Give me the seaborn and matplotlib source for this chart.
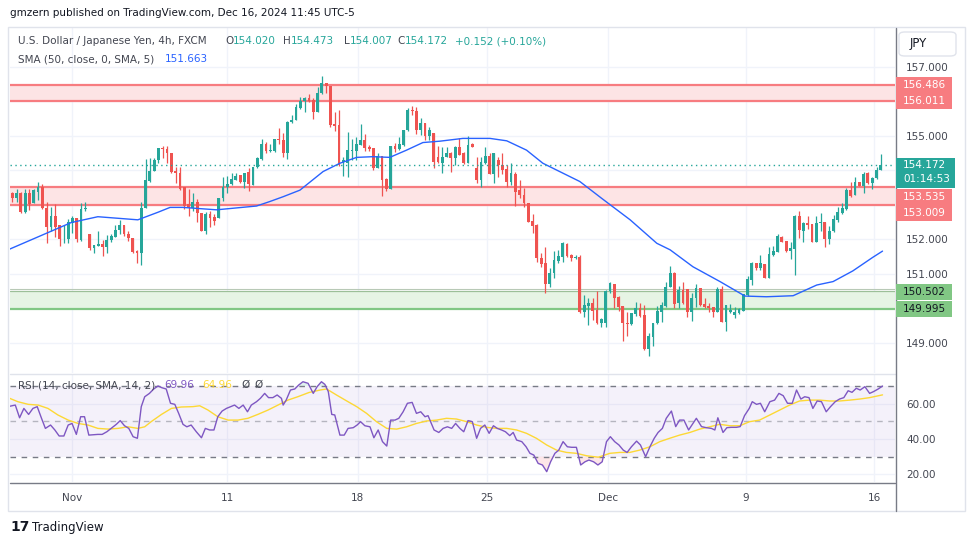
import numpy as np
import pandas as pd
import seaborn as sns
import matplotlib.pyplot as plt
from matplotlib.patches import Rectangle, FancyBboxPatch
from matplotlib.lines import Line2D

# ---- USD/JPY 4h candles ----
opens = [
    153.34, 153.21, 153.34, 152.81, 153.34, 153.05, 153.39, 153.51, 152.90, 152.37,
    152.68, 152.42, 152.00, 152.00, 152.47, 152.61, 151.98, 152.87, 152.16, 151.76,
    151.81, 151.87, 151.79, 151.99, 152.08, 152.28, 152.42, 152.15, 152.03, 151.67,
    151.60, 152.90, 153.70, 153.99, 154.29, 154.64, 154.62, 154.50, 153.99, 153.92,
    153.51, 153.02, 152.90, 153.08, 152.78, 152.26, 152.74, 152.64, 152.61, 153.19,
    153.51, 153.60, 153.72, 153.87, 153.68, 153.95, 153.58, 154.11, 154.33, 154.77,
    154.56, 154.56, 154.91, 154.88, 154.50, 155.40, 155.46, 155.82, 156.01, 156.09,
    156.04, 155.70, 156.24, 156.53, 156.46, 155.35, 155.32, 154.26, 154.21, 154.57,
    154.57, 154.74, 154.88, 154.67, 154.64, 154.08, 154.42, 153.75, 153.45, 154.71,
    154.62, 154.74, 155.17, 155.75, 155.72, 155.17, 155.37, 155.01, 155.10, 154.40,
    154.23, 154.40, 154.52, 154.37, 154.69, 154.50, 154.23, 154.76, 154.06, 153.72,
    154.21, 154.42, 153.90, 154.31, 154.16, 154.03, 153.68, 153.90, 153.42, 153.29,
    153.07, 152.55, 152.42, 151.47, 151.31, 150.71, 151.02, 151.38, 151.50, 151.87,
    151.55, 151.47, 151.50, 149.91, 150.07, 150.15, 149.97, 149.57, 149.57, 150.51,
    150.71, 150.34, 150.07, 149.59, 149.55, 149.84, 150.00, 149.81, 148.83, 149.18,
    149.57, 149.89, 150.07, 150.63, 151.04, 150.15, 150.54, 150.56, 149.91, 150.29,
    150.58, 150.13, 150.07, 150.05, 149.91, 150.57, 149.62, 149.91, 149.81, 149.88,
    149.94, 150.39, 150.83, 151.31, 151.16, 151.29, 150.89, 151.55, 151.65, 152.08,
    151.96, 151.68, 151.73, 152.68, 152.26, 152.47, 152.45, 151.94, 152.47, 152.52,
    152.00, 152.26, 152.57, 152.76, 152.87, 153.42, 153.29, 153.68, 153.56, 153.92,
    153.63, 153.77, 154.020,
]
highs = [
    153.39, 153.46, 153.39, 153.46, 153.46, 153.46, 153.66, 153.60, 153.08, 152.95,
    153.02, 152.42, 152.42, 152.58, 152.68, 152.61, 153.07, 153.08, 152.16, 151.84,
    152.25, 151.99, 152.13, 152.15, 152.42, 152.57, 152.42, 152.25, 152.03, 151.70,
    153.10, 154.33, 154.35, 154.37, 154.64, 154.71, 154.71, 154.50, 154.11, 154.11,
    153.51, 153.46, 153.34, 153.17, 152.78, 152.81, 152.83, 152.74, 153.19, 153.80,
    153.84, 153.92, 153.94, 153.87, 153.94, 154.06, 154.11, 154.38, 154.90, 154.84,
    154.77, 154.91, 155.22, 155.08, 155.42, 155.61, 155.92, 156.12, 156.14, 156.22,
    156.09, 156.43, 156.74, 156.53, 156.46, 155.70, 155.75, 154.38, 155.13, 154.91,
    154.98, 155.35, 155.06, 154.74, 154.64, 154.50, 154.42, 153.77, 154.71, 154.79,
    154.98, 155.17, 155.80, 155.87, 155.85, 155.51, 155.39, 155.25, 155.10, 154.71,
    154.67, 154.67, 154.55, 154.71, 154.93, 154.55, 155.00, 154.79, 154.40, 154.40,
    154.69, 154.50, 154.50, 154.40, 154.50, 154.16, 154.23, 153.97, 153.72, 153.48,
    153.07, 152.74, 152.44, 151.60, 151.79, 151.16, 151.68, 151.70, 151.94, 151.91,
    151.58, 151.55, 151.55, 150.39, 150.29, 150.29, 150.51, 149.73, 150.54, 150.78,
    150.71, 150.36, 150.07, 149.91, 149.88, 150.20, 150.15, 150.10, 149.28, 149.59,
    150.07, 150.20, 150.78, 151.23, 151.07, 150.65, 150.78, 150.56, 150.44, 150.70,
    150.58, 150.29, 150.17, 150.05, 150.63, 150.66, 150.10, 150.12, 150.05, 150.00,
    150.42, 150.95, 151.36, 151.33, 151.55, 151.29, 151.79, 151.81, 152.16, 152.10,
    151.96, 151.92, 152.71, 152.84, 152.52, 152.69, 152.45, 152.68, 152.76, 152.52,
    152.39, 152.71, 152.95, 153.05, 153.48, 153.68, 153.80, 153.68, 153.95, 153.97,
    153.82, 154.11, 154.473,
]
lows = [
    153.08, 153.08, 152.78, 152.78, 152.85, 153.05, 153.15, 152.87, 151.91, 152.26,
    152.08, 151.81, 151.91, 151.91, 152.20, 151.94, 151.96, 152.84, 151.70, 151.60,
    151.81, 151.53, 151.60, 151.94, 152.08, 152.15, 152.11, 151.97, 151.62, 151.33,
    151.26, 152.90, 153.68, 153.99, 154.21, 154.35, 154.23, 153.92, 153.65, 153.43,
    152.87, 152.69, 152.84, 152.52, 152.24, 152.15, 152.37, 152.42, 152.61, 153.13,
    153.34, 153.58, 153.72, 153.65, 153.48, 153.41, 153.58, 154.06, 154.30, 154.50,
    154.53, 154.55, 154.77, 154.40, 154.33, 155.39, 155.46, 155.78, 155.70, 155.98,
    155.49, 155.70, 156.22, 156.26, 155.27, 155.15, 154.14, 153.84, 153.82, 154.29,
    154.29, 154.74, 154.56, 154.56, 154.01, 154.06, 153.26, 153.41, 153.45, 154.55,
    154.59, 154.72, 155.15, 155.61, 155.05, 155.03, 154.87, 154.87, 154.06, 154.21,
    153.92, 154.38, 153.97, 154.16, 154.45, 154.19, 154.23, 154.69, 153.65, 153.53,
    154.19, 153.90, 153.63, 153.82, 153.90, 153.53, 153.58, 152.98, 153.19, 152.95,
    152.50, 152.20, 151.36, 151.21, 150.46, 150.63, 150.88, 151.31, 151.36, 151.50,
    151.39, 151.42, 149.86, 149.76, 149.52, 149.67, 149.55, 149.47, 149.47, 150.44,
    150.00, 149.94, 149.07, 149.20, 149.52, 149.78, 149.74, 148.80, 148.63, 148.91,
    149.55, 149.62, 150.05, 150.61, 150.00, 150.00, 150.13, 149.76, 149.65, 150.03,
    150.07, 150.00, 149.91, 149.76, 149.91, 149.60, 149.36, 149.86, 149.71, 149.84,
    149.94, 150.36, 150.68, 151.12, 151.12, 150.89, 150.89, 151.52, 151.65, 151.92,
    151.65, 151.43, 150.97, 152.03, 151.92, 152.29, 151.94, 151.94, 152.26, 151.79,
    151.87, 152.23, 152.52, 152.74, 152.85, 153.22, 153.29, 153.56, 153.34, 153.61,
    153.45, 153.74, 154.007,
]
closes = [
    153.21, 153.34, 152.81, 153.34, 153.02, 153.42, 153.53, 152.90, 152.37, 152.68,
    152.37, 152.00, 152.01, 152.52, 152.61, 152.00, 152.88, 152.92, 151.76, 151.84,
    151.87, 151.79, 151.99, 152.10, 152.28, 152.42, 152.15, 152.03, 151.65, 151.60,
    152.90, 153.72, 153.99, 154.29, 154.64, 154.61, 154.50, 153.97, 153.92, 153.46,
    152.97, 152.90, 153.08, 152.78, 152.26, 152.74, 152.63, 152.55, 153.19, 153.53,
    153.60, 153.74, 153.85, 153.68, 153.94, 153.60, 154.11, 154.35, 154.77, 154.56,
    154.59, 154.91, 154.88, 154.50, 155.40, 155.46, 155.85, 156.01, 156.09, 156.01,
    155.70, 156.24, 156.53, 156.46, 155.32, 155.30, 154.16, 154.29, 154.59, 154.59,
    154.77, 154.88, 154.66, 154.62, 154.08, 154.42, 153.72, 153.45, 154.71, 154.62,
    154.77, 155.17, 155.75, 155.72, 155.17, 155.37, 155.01, 155.17, 154.25, 154.24,
    154.40, 154.52, 154.37, 154.69, 154.45, 154.21, 154.74, 154.69, 153.72, 154.26,
    154.42, 153.90, 154.50, 154.16, 154.01, 153.68, 153.92, 153.39, 153.29, 153.07,
    152.52, 152.39, 151.45, 151.29, 150.71, 151.04, 151.41, 151.53, 151.89, 151.53,
    151.47, 151.50, 149.91, 150.10, 150.17, 149.94, 149.57, 149.69, 150.51, 150.73,
    150.29, 150.03, 149.57, 149.55, 149.86, 150.00, 149.78, 148.83, 149.20, 149.59,
    149.94, 150.10, 150.63, 151.04, 150.13, 150.54, 150.15, 149.91, 150.29, 150.58,
    150.10, 150.05, 150.00, 149.91, 150.57, 149.62, 150.10, 149.96, 149.91, 149.99,
    150.42, 150.85, 151.33, 151.16, 151.31, 150.89, 151.58, 151.67, 152.10, 151.94,
    151.68, 151.76, 152.68, 152.28, 152.47, 152.42, 151.94, 152.49, 152.52, 152.00,
    152.26, 152.59, 152.79, 152.90, 153.42, 153.26, 153.68, 153.56, 153.90, 153.63,
    153.77, 154.01, 154.172,
]

# SMA(50) overlay, read at bar positions
sma_x = [-1.0, 13.7, 19.9, 29.2, 33.9, 36.7, 39.7, 47.5, 56.8, 59.9, 63.0, 66.9, 72.3,
         76.2, 80.1, 83.9, 87.8, 91.7, 95.5, 99.5, 104.8, 111.1, 115.0, 119.6, 123.4,
         128.1, 132.0, 137.0, 143.7, 149.9, 153.0, 158.3, 164.6, 170.4, 175.4, 181.6,
         187.1, 190.9, 195.5, 200.1, 202.4]
sma_val = [151.70, 152.49, 152.66, 152.57, 152.79, 152.93, 152.93, 152.86, 152.97, 153.10,
           153.24, 153.43, 153.97, 154.21, 154.38, 154.40, 154.38, 154.59, 154.81, 154.85,
           154.93, 154.93, 154.86, 154.59, 154.21, 153.92, 153.68, 153.20, 152.57, 151.89,
           151.70, 151.21, 150.78, 150.36, 150.34, 150.37, 150.68, 150.78, 151.09, 151.48,
           151.663]

# RSI(14) and its SMA(14)
rsi_x = [-1.0, 0.7, 1.7, 2.7, 3.8, 4.8, 5.8, 6.8, 7.7, 8.9, 9.9, 10.9, 12.0, 13.0, 13.9,
         14.9, 15.9, 16.8, 17.8, 19.9, 20.9, 22.0, 23.2, 24.2, 25.1, 26.1, 27.1, 28.1, 29.1,
         30.0, 30.8, 31.9, 32.9, 33.9, 34.8, 35.8, 36.8, 37.8, 38.7, 39.7, 40.6, 41.6, 42.8,
         44.0, 44.9, 45.9, 46.9, 47.8, 48.8, 49.8, 50.8, 51.7, 52.7, 53.7, 54.7, 55.6, 56.8,
         57.7, 58.7, 59.6, 60.6, 61.6, 62.6, 63.0, 63.7, 64.7, 65.7, 66.6, 67.6, 68.8, 70.0,
         70.9, 71.9, 72.7, 73.5, 74.3, 75.0, 76.2, 77.2, 78.1, 79.3, 80.2, 81.0, 82.0, 83.2,
         84.1, 85.1, 86.1, 87.1, 88.0, 89.0, 89.9, 90.9, 91.9, 93.0, 94.0, 95.0, 96.0, 96.7,
         98.1, 99.2, 100.2, 101.2, 102.2, 103.1, 104.1, 105.0, 106.0, 107.0, 108.0, 108.9,
         109.9, 110.9, 111.9, 112.8, 113.8, 114.7, 115.7, 116.5, 117.3, 118.5, 119.5, 120.4,
         121.3, 122.3, 123.3, 124.3, 125.2, 126.2, 127.1, 128.1, 129.1, 130.1, 131.2, 132.2,
         133.2, 134.1, 135.2, 136.2, 137.2, 138.2, 139.1, 140.1, 141.1, 142.1, 143.0, 144.0,
         145.2, 146.1, 147.3, 148.3, 149.3, 150.2, 151.2, 152.1, 153.3, 154.3, 155.2, 156.2,
         157.3, 158.3, 159.1, 160.3, 161.4, 162.6, 163.4, 164.1, 165.3, 166.2, 167.2, 168.4,
         169.3, 170.3, 171.4, 172.1, 173.1, 174.0, 175.0, 176.2, 177.3, 178.3, 179.3, 180.3,
         181.4, 182.4, 183.4, 184.3, 185.3, 186.2, 187.2, 188.2, 189.3, 190.3, 191.4, 192.4,
         193.4, 194.4, 195.3, 196.3, 197.2, 198.3, 199.4, 200.3, 201.4, 202.4]
rsi_val = [58.3, 59.2, 52.0, 57.3, 53.9, 57.3, 58.3, 51.7, 46.0, 47.9, 45.1, 41.7, 41.7, 47.9, 48.8,
           42.6, 52.6, 52.6, 42.2, 42.6, 42.6, 44.1, 46.4, 48.3, 50.4, 47.5, 46.0, 41.3, 40.4,
           58.3, 63.9, 65.8, 68.3, 70.0, 69.0, 68.3, 60.2, 59.6, 54.5, 48.3, 46.9, 47.9, 44.1,
           40.7, 46.0, 45.1, 45.1, 52.6, 55.8, 57.3, 58.3, 59.2, 57.3, 59.2, 55.4, 59.2, 61.1,
           63.0, 65.8, 63.4, 63.4, 64.9, 63.0, 59.2, 62.0, 67.7, 68.3, 70.5, 72.4, 71.5, 65.8,
           69.6, 72.4, 70.9, 66.8, 53.9, 53.6, 42.2, 42.2, 46.0, 46.4, 47.9, 49.8, 47.5, 46.9,
           40.7, 45.1, 38.5, 36.0, 50.7, 50.7, 51.7, 55.4, 60.2, 60.7, 54.5, 55.4, 52.6, 53.2,
           45.1, 43.7, 46.0, 46.9, 46.0, 48.8, 46.0, 44.1, 50.4, 49.8, 40.4, 46.0,
           47.9, 43.2, 47.5, 46.0, 45.1, 44.1, 41.9, 43.7, 39.4, 38.5, 35.6, 31.9,
           30.9, 26.2, 25.3, 21.5, 27.1, 31.9, 33.7, 38.5, 35.6, 35.3, 35.3, 25.3,
           27.1, 28.1, 27.1, 25.3, 27.1, 38.5, 41.3, 38.5, 36.6, 33.7, 32.4, 35.6,
           38.8, 36.6, 30.0, 35.6, 40.4, 43.7, 46.0, 51.7, 55.8, 47.0, 50.7, 50.7,
           45.1, 48.8, 51.7, 47.0, 46.4, 46.0, 45.1, 52.0, 43.7, 46.4, 46.6, 46.6,
           47.0, 53.2, 57.3, 61.1, 59.6, 60.2, 55.4, 61.1, 62.0, 65.8, 64.5, 60.2,
           60.2, 67.7, 62.6, 63.9, 63.4, 57.3, 61.5, 61.1, 55.4, 58.3, 61.1, 62.6,
           63.4, 67.3, 66.4, 68.7, 67.7, 69.6, 65.8, 66.8, 68.3, 69.96]

rsi_ma_x = [-1.0, 1.3, 3.7, 6.0, 8.3, 10.6, 13.0, 15.3, 17.6, 19.9, 22.3, 24.6, 26.9, 29.2,
            30.8, 32.3, 34.7, 37.0, 39.3, 42.0, 43.6, 45.5, 47.8, 50.2, 52.5, 54.8, 57.1,
            59.5, 61.8, 64.1, 66.4, 69.0, 71.6, 73.1, 75.4, 77.8, 80.1, 82.4, 84.7, 87.1,
            89.4, 91.7, 94.0, 96.4, 98.7, 101.0, 103.3, 105.7, 108.0, 110.3, 112.6, 115.0,
            117.3, 119.6, 121.9, 124.3, 126.6, 128.9, 131.2, 133.6, 136.3, 139.0, 141.3,
            143.6, 145.9, 148.3, 150.6, 152.9, 155.2, 157.6, 159.9, 162.2, 164.5, 166.9,
            169.2, 171.5, 173.8, 176.2, 178.5, 180.8, 183.1, 185.5, 187.8, 190.1, 192.4,
            194.8, 197.1, 199.4, 202.4]
rsi_ma_val = [63.4, 61.1, 59.6, 59.2, 57.3, 53.6, 50.7, 48.8, 47.9, 46.0, 45.6, 46.0, 46.9, 46.0,
              46.9, 49.8, 53.9, 57.3, 58.1, 58.3, 58.8, 56.4, 52.6, 50.7, 50.7, 51.7, 53.9,
              56.4, 59.2, 62.0, 63.9, 66.3, 67.7, 68.3, 64.9, 61.5, 58.3, 54.5, 49.8, 46.0,
              45.6, 46.9, 48.8, 50.2, 50.7, 51.7, 51.3, 49.8, 47.9, 46.6, 46.0, 46.0,
              45.1, 43.2, 40.4, 36.6, 33.7, 32.4, 31.9, 30.5, 29.7, 31.9, 32.4,
              32.4, 33.7, 35.6, 38.5, 40.4, 42.2, 43.7, 45.6, 46.9, 48.3, 47.5,
              47.5, 49.8, 50.7, 53.6, 56.4, 59.2, 61.5, 62.0, 62.0, 61.5, 61.5,
              62.0, 62.6, 63.4, 64.96]

# horizontal zones drawn on the chart
red_zones = [(156.011, 156.486), (153.009, 153.535)]
green_zone = (149.995, 150.502)
last_price = 154.172
date_pos = [13.9, 50.0, 80.3, 110.3, 138.5, 170.6, 200.5]
date_lbl = ["Nov", "11", "18", "25", "Dec", "9", "16"]
price_ticks = list(range(149, 158))
shown_ticks = [149, 151, 152, 155, 157]   # the others sit under the coloured tags

GREEN = "#26a69a"
RED = "#ef5350"
TXT = "#131722"
GRAY = "#434651"
GRID = "#f0f3fa"

sns.set_theme(style="white")
plt.rcParams["font.family"] = ["DejaVu Sans"]

W, H = 970, 545
fig = plt.figure(figsize=(9.7, 5.45), dpi=100)
fig.patch.set_facecolor("white")


def fx(px):
    return px / W


def fy(py):
    return 1 - py / H


ax = fig.add_axes([fx(10), fy(373), fx(895) - fx(10), fy(28) - fy(373)])
rax = fig.add_axes([fx(10), fy(482), fx(895) - fx(10), fy(374) - fy(482)])
PMAX, PMIN = 158.13, 148.13
for a in (ax, rax):
    a.set_xlim(-0.53, 205.3)
    for s in a.spines.values():
        s.set_visible(False)
    a.set_facecolor("white")
ax.set_ylim(PMIN, PMAX)
rax.set_ylim(15.67, 76.77)

# grids
ax.set_yticks(price_ticks)
ax.yaxis.tick_right()
ax.set_yticklabels([f"{v:.3f}" if v in shown_ticks else "" for v in price_ticks])
ax.tick_params(axis="y", length=0, pad=8, labelsize=7.5, labelcolor=GRAY)
ax.set_xticks(date_pos)
ax.tick_params(axis="x", length=0, labelbottom=False)
ax.grid(True, color=GRID, lw=1)
ax.set_axisbelow(True)

rax.set_yticks([20, 40, 60])
rax.yaxis.tick_right()
rax.set_yticklabels(["20.00", "40.00", "60.00"])
rax.tick_params(axis="y", length=0, pad=8, labelsize=7.5, labelcolor=GRAY)
rax.set_xticks(date_pos)
rax.set_xticklabels(date_lbl)
rax.tick_params(axis="x", length=0, pad=8, labelsize=7.5, labelcolor=GRAY)
rax.grid(True, color=GRID, lw=1)
rax.set_axisbelow(True)

# zones
for lo, hi in red_zones:
    ax.axhspan(lo, hi, color="#fde4e5", lw=0, zorder=1)
    ax.axhline(lo, color="#f77c80", lw=1.6, zorder=2)
    ax.axhline(hi, color="#f77c80", lw=1.6, zorder=2)
ax.axhspan(green_zone[0], green_zone[1], color="#e6f4e4", lw=0, zorder=1)
ax.axhline(green_zone[0], color="#81c784", lw=1.6, zorder=2)
ax.axhline(green_zone[1], color="#9cbf98", lw=0.9, zorder=2)
ax.axhline(green_zone[1] + 0.06, color="#b8c9b6", lw=0.8, zorder=2)

# candles
o = np.array(opens)
h = np.array(highs)
l = np.array(lows)
c = np.array(closes)
xs = np.arange(len(c))
cols = np.where(c >= o, GREEN, RED)
ax.vlines(xs, l, h, colors=cols, lw=0.9, zorder=3)
ax.bar(xs, np.maximum(np.abs(c - o), 0.015), bottom=np.minimum(o, c), width=0.66,
       color=cols, lw=0, zorder=4)

sma_df = pd.DataFrame({"x": sma_x, "v": sma_val})
sns.lineplot(data=sma_df, x="x", y="v", ax=ax, color="#2962ff", lw=1.0, zorder=5)
ax.axhline(last_price, color=GREEN, lw=1, ls=(0, (1, 2.5)), zorder=5)
ax.set_xlabel("")
ax.set_ylabel("")

# RSI pane
rax.axhspan(30, 70, color="#7e57c2", alpha=0.08, lw=0, zorder=1)
rax.axhline(70, color="#787b86", lw=1, ls=(0, (4, 4)), zorder=2)
rax.axhline(30, color="#787b86", lw=1, ls=(0, (4, 4)), zorder=2)
rax.axhline(50, color="#787b86", lw=1, ls=(0, (4, 4)), alpha=0.5, zorder=2)
rv = np.array(rsi_val)
rx = np.array(rsi_x)
rax.fill_between(rx, rv, 30, where=rv < 30, interpolate=True, color="#f23645", alpha=0.12, lw=0)
rax.fill_between(rx, rv, 70, where=rv > 70, interpolate=True, color="#089981", alpha=0.12, lw=0)
sns.lineplot(x=rsi_ma_x, y=rsi_ma_val, ax=rax, color="#fdd835", lw=1.0, zorder=4)
sns.lineplot(x=rsi_x, y=rsi_val, ax=rax, color="#7e57c2", lw=1.0, zorder=5)
rax.set_xlabel("")
rax.set_ylabel("")


# frame lines
def fig_line(x0, y0, x1, y1, color, lw=1.0):
    fig.add_artist(Line2D([fx(x0), fx(x1)], [fy(y0), fy(y1)], transform=fig.transFigure,
                          color=color, lw=lw))


fig.add_artist(Rectangle((fx(8), fy(511)), fx(965) - fx(8), fy(27) - fy(511),
                         transform=fig.transFigure, fill=False, ec="#e0e3eb", lw=1))
fig_line(10, 373.5, 895, 373.5, "#e0e3eb")
fig_line(10, 482.5, 895, 482.5, "#787b86")
fig_line(895.5, 28, 895.5, 511, "#787b86")


# price tags on the right axis
def p2y(p):
    return 28 + (PMAX - p) * 34.5


def tag(yc, txt, bg, fg, hgt=16):
    fig.add_artist(Rectangle((fx(896), fy(yc + hgt / 2)), 56 / W, hgt / H,
                             transform=fig.transFigure, color=bg, lw=0, zorder=5))
    fig.text(fx(903), fy(yc), txt, color=fg, fontsize=7.5, va="center", ha="left", zorder=6)


tag(p2y(red_zones[0][1]), f"{red_zones[0][1]:.3f}", "#f77c80", "white")
tag(p2y(red_zones[0][0]), f"{red_zones[0][0]:.3f}", "#f77c80", "white")
tag(p2y(red_zones[1][1]) + 10, f"{red_zones[1][1]:.3f}", "#f77c80", "white")
tag(p2y(red_zones[1][0]) + 8.5, f"{red_zones[1][0]:.3f}", "#f77c80", "white")
tag(p2y(green_zone[1]) + 1, f"{green_zone[1]:.3f}", "#81c784", TXT)
tag(p2y(green_zone[0]) + 0.5, f"{green_zone[0]:.3f}", "#81c784", TXT)
ly = p2y(last_price)
fig.add_artist(Rectangle((fx(896), fy(ly + 23)), 59 / W, 30 / H,
                         transform=fig.transFigure, color=GREEN, lw=0, zorder=5))
fig.text(fx(903), fy(ly), f"{last_price:.3f}", color="white", fontsize=7.5, va="center", zorder=6)
fig.text(fx(903), fy(ly + 14.5), "01:14:53", color="white", fontsize=7.5, va="center", zorder=6)

# JPY box
fig.add_artist(FancyBboxPatch((fx(899), fy(56)), 57 / W, 24 / H, boxstyle="round,pad=0,rounding_size=0.006",
                              transform=fig.transFigure, fc="white", ec="#e0e3eb", lw=1))
fig.text(fx(918), fy(44), "JPY", fontsize=8.5, color=TXT, va="center", ha="center")


# texts
def run(x_px, y_px, parts, size=7.5):
    r = fig.canvas.get_renderer()
    x = x_px
    for s, col in parts:
        t = fig.text(fx(x), fy(y_px), s, color=col, fontsize=size, va="center", ha="left")
        x += t.get_window_extent(renderer=r).width


fig.text(fx(10), fy(13), "gmzern published on TradingView.com, Dec 16, 2024 11:45 UTC-5",
         fontsize=7.5, color=TXT, va="center")
run(18, 41, [("U.S. Dollar / Japanese Yen, 4h, FXCM", GRAY)])
run(225, 41, [("O", GRAY), ("154.020", GREEN)])
run(283, 41, [("H", GRAY), ("154.473", GREEN)])
run(344, 41, [("L", GRAY), ("154.007", GREEN)])
run(397, 41, [("C", GRAY), ("154.172", GREEN)])
run(455, 41, [("+0.152 (+0.10%)", GREEN)])
run(18, 59, [("SMA (50, close, 0, SMA, 5)", GRAY)])
run(165, 59, [("151.663", "#2962ff")])
run(18, 385, [("RSI (14, close, SMA, 14, 2)", GRAY)])
run(164, 385, [("69.96", "#7e57c2")])
run(202, 385, [("64.96", "#fdd835")])
run(241, 385, [("\u00d8", GRAY)])
run(254, 385, [("\u00d8", GRAY)])

# logo
fig.text(fx(10), fy(527), "17", fontsize=10, fontweight="heavy", color=TXT, va="center")
fig.text(fx(32), fy(527), "TradingView", fontsize=8.5, color=TXT, va="center")

fig.savefig("out.png", dpi=100)
